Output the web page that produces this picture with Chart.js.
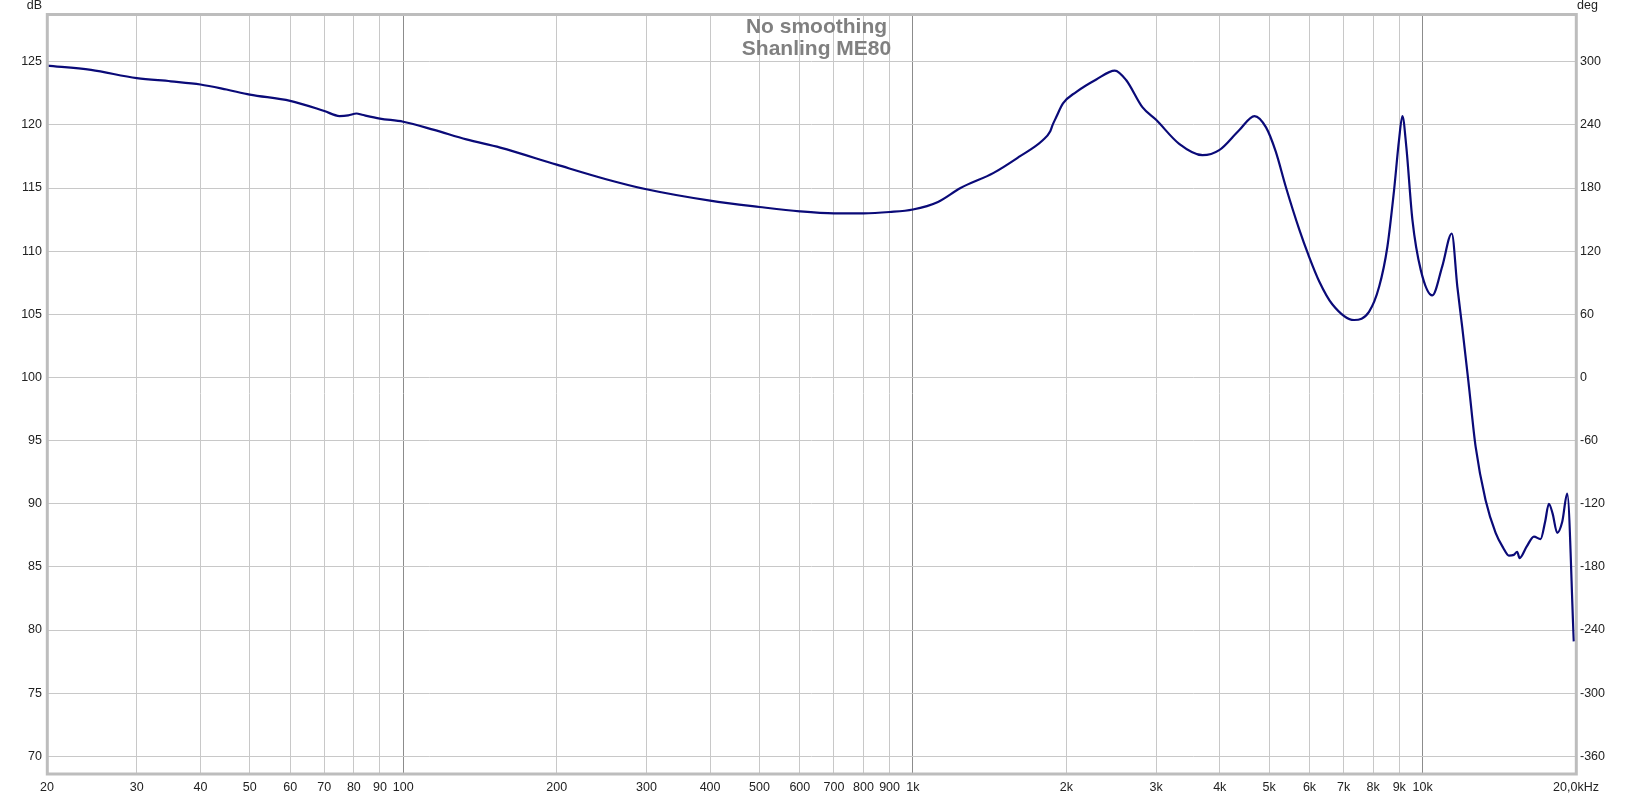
<!DOCTYPE html>
<html>
<head>
<meta charset="utf-8">
<script src="https://cdn.jsdelivr.net/npm/chart.js@4.4.1/dist/chart.umd.min.js"></script>
<style>
  html, body { margin: 0; padding: 0; background: #fff; }
</style>
</head>
<body>
<canvas id="graphic" width="1633" height="795"></canvas>
<script>
// frequency response
const freqs = [20, 24.4, 30, 35, 40, 45, 50, 60, 70, 75, 78, 81, 83, 90, 100, 115, 133, 155, 200, 250,
  300, 400, 500, 600, 700, 800, 900, 1000, 1120, 1240, 1440, 1620, 1800, 1860, 1880, 1910, 1970, 2090,
  2290, 2490, 2620, 2820, 3000, 3330, 3700, 3990, 4370, 4680, 4930, 5150, 5390, 5730, 5970, 6270, 6650, 7340,
  7850, 8220, 8530, 8790, 8990, 9130, 9290, 9550, 9920, 10450, 10930, 11410, 11700, 11960, 12330, 12710,
  13290, 13910, 14400, 14770, 15100, 15330, 15500, 16000, 16540, 17040, 17400, 17690, 18000, 18370,
  18800, 19220, 19800];
const spl = [124.7, 124.35, 123.7, 123.45, 123.2, 122.8, 122.4, 121.9, 121.1, 120.7, 120.75, 120.9, 120.8,
  120.5, 120.25, 119.6, 118.85, 118.2, 116.85, 115.7, 114.9, 114.0, 113.5, 113.15, 113.0, 113.0, 113.1,
  113.3, 113.9, 115.0, 116.2, 117.5, 118.8, 119.5, 120.0, 120.6, 121.7, 122.6, 123.6, 124.3, 123.55,
  121.4, 120.4, 118.5, 117.6, 118.0, 119.6, 120.7, 119.8, 117.9, 115.1, 111.7, 109.7, 107.6, 105.8, 104.55,
  105.2, 107.2, 110.35, 114.8, 118.8, 120.7, 118.3, 112.5, 108.5, 106.5, 108.8, 111.4, 107.2, 104.0,
  99.3, 94.5, 90.3, 87.7, 86.5, 85.9, 85.95, 86.2, 85.7, 86.6, 87.4, 87.2, 88.6, 90.0, 89.2, 87.7,
  88.6, 90.8, 79.1];

const xTicks = [20, 30, 40, 50, 60, 70, 80, 90, 100, 200, 300, 400, 500, 600, 700, 800, 900, 1000,
  2000, 3000, 4000, 5000, 6000, 7000, 8000, 9000, 10000, 20000];
const xLabels = ['20', '30', '40', '50', '60', '70', '80', '90', '100', '200', '300', '400', '500', '600',
  '700', '800', '900', '1k', '2k', '3k', '4k', '5k', '6k', '7k', '8k', '9k', '10k', '20,0kHz'];
const dbTicks = [70, 75, 80, 85, 90, 95, 100, 105, 110, 115, 120, 125];
const degTicks = [-360, -300, -240, -180, -120, -60, 0, 60, 120, 180, 240, 300];
const titleLines = ['No smoothing', 'Shanling ME80'];

const dbMin = 68.68, dbMax = 128.78;

Chart.defaults.font.family = "'Liberation Sans', Arial, sans-serif";
Chart.defaults.font.size = 12.5;
Chart.defaults.color = '#222';

const decorations = {
  id: 'decorations',
  afterDraw(chart) {
    const ctx = chart.ctx;
    const a = chart.chartArea;
    ctx.save();
    ctx.strokeStyle = '#bdbdbd';
    ctx.lineWidth = 3;
    ctx.strokeRect(a.left + 0.3, a.top + 0.5, a.right - a.left, a.bottom - a.top + 0.5);

    ctx.fillStyle = '#808080';
    ctx.font = "bold 21px 'Liberation Sans', Arial, sans-serif";
    ctx.textAlign = 'center';
    ctx.textBaseline = 'alphabetic';
    const cx = (a.left + a.right) / 2 + 5;
    ctx.fillText(titleLines[0], cx, 33);
    ctx.fillText(titleLines[1], cx, 55);

    ctx.fillStyle = '#222';
    ctx.font = "12.5px 'Liberation Sans', Arial, sans-serif";
    ctx.textAlign = 'right';
    ctx.fillText('dB', 42, 9);
    ctx.textAlign = 'left';
    ctx.fillText('deg', 1577, 8.5);
    ctx.restore();
  }
};

const decades = [100, 1000, 10000];

new Chart(document.getElementById('graphic').getContext('2d'), {
  type: 'line',
  data: {
    datasets: [{
      label: 'Shanling ME80',
      data: freqs.map((f, i) => ({ x: f, y: spl[i] })),
      borderColor: 'rgb(10, 10, 120)',
      borderWidth: 2.2,
      pointRadius: 0,
      cubicInterpolationMode: 'monotone',
      fill: false,
      yAxisID: 'y'
    }]
  },
  options: {
    responsive: false,
    animation: false,
    devicePixelRatio: 1,
    layout: { padding: { top: 14, left: 0, right: 0, bottom: 0 } },
    plugins: { legend: { display: false }, tooltip: { enabled: false }, title: { display: false } },
    scales: {
      x: {
        type: 'logarithmic',
        min: 20,
        max: 20000,
        afterBuildTicks: (axis) => { axis.ticks = xTicks.map(v => ({ value: v })); },
        afterFit: (axis) => { axis.height = 22; },
        ticks: {
          autoSkip: false,
          maxRotation: 0,
          padding: 7,
          callback: (v) => xLabels[xTicks.indexOf(v)]
        },
        grid: {
          drawTicks: false,
          color: (c) => decades.includes(c.tick && c.tick.value) ? '#8c8c8c' : '#c8c8c8'
        },
        border: { display: false }
      },
      y: {
        position: 'left',
        min: dbMin,
        max: dbMax,
        afterBuildTicks: (axis) => { axis.ticks = dbTicks.map(v => ({ value: v })); },
        afterFit: (axis) => { axis.width = 47; },
        ticks: { padding: 5, callback: (v) => String(v) },
        grid: { drawTicks: false, color: '#c8c8c8' },
        border: { display: false }
      },
      deg: {
        position: 'right',
        min: (dbMin - 100) * 12,
        max: (dbMax - 100) * 12,
        afterBuildTicks: (axis) => { axis.ticks = degTicks.map(v => ({ value: v })); },
        afterFit: (axis) => { axis.width = 57; },
        ticks: { padding: 4, callback: (v) => String(v) },
        grid: { drawTicks: false, drawOnChartArea: false },
        border: { display: false }
      }
    }
  },
  plugins: [decorations]
});
</script>
</body>
</html>
